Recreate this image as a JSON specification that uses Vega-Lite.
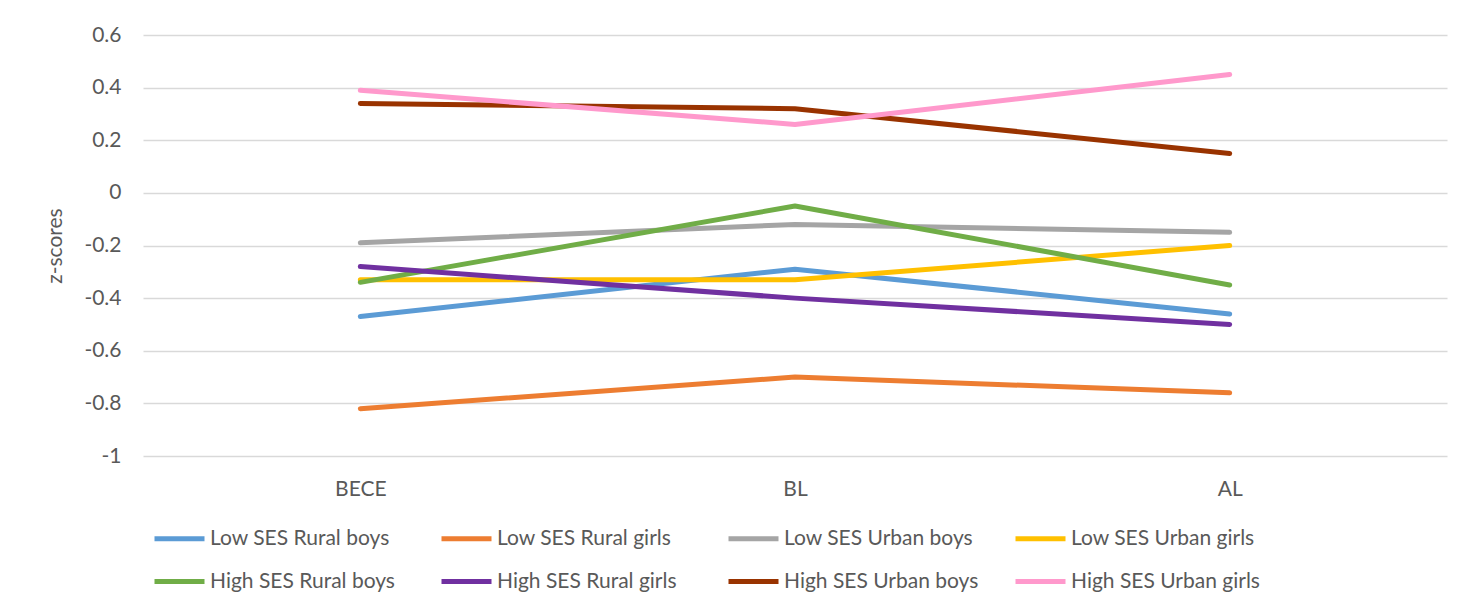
{
  "$schema": "https://vega.github.io/schema/vega-lite/v6.json",
  "width": 1304,
  "height": 421,
  "autosize": {"type": "none"},
  "padding": {"left": 143, "top": 35, "right": 31, "bottom": 160},
  "background": "white",
  "config": {
    "view": {"stroke": null},
    "font": "Lato",
    "axis": {"labelFont": "Lato", "titleFont": "Lato", "labelColor": "#595959", "titleColor": "#595959"},
    "legend": {"labelFont": "Lato", "labelColor": "#595959"}
  },
  "data": {
    "values": [
      {"group": "Low SES Rural boys", "exam": "BECE", "z": -0.47},
      {"group": "Low SES Rural boys", "exam": "BL", "z": -0.29},
      {"group": "Low SES Rural boys", "exam": "AL", "z": -0.46},
      {"group": "Low SES Rural girls", "exam": "BECE", "z": -0.82},
      {"group": "Low SES Rural girls", "exam": "BL", "z": -0.70},
      {"group": "Low SES Rural girls", "exam": "AL", "z": -0.76},
      {"group": "Low SES Urban boys", "exam": "BECE", "z": -0.19},
      {"group": "Low SES Urban boys", "exam": "BL", "z": -0.12},
      {"group": "Low SES Urban boys", "exam": "AL", "z": -0.15},
      {"group": "Low SES Urban girls", "exam": "BECE", "z": -0.33},
      {"group": "Low SES Urban girls", "exam": "BL", "z": -0.33},
      {"group": "Low SES Urban girls", "exam": "AL", "z": -0.20},
      {"group": "High SES Rural boys", "exam": "BECE", "z": -0.34},
      {"group": "High SES Rural boys", "exam": "BL", "z": -0.05},
      {"group": "High SES Rural boys", "exam": "AL", "z": -0.35},
      {"group": "High SES Rural girls", "exam": "BECE", "z": -0.28},
      {"group": "High SES Rural girls", "exam": "BL", "z": -0.40},
      {"group": "High SES Rural girls", "exam": "AL", "z": -0.50},
      {"group": "High SES Urban boys", "exam": "BECE", "z": 0.34},
      {"group": "High SES Urban boys", "exam": "BL", "z": 0.32},
      {"group": "High SES Urban boys", "exam": "AL", "z": 0.15},
      {"group": "High SES Urban girls", "exam": "BECE", "z": 0.39},
      {"group": "High SES Urban girls", "exam": "BL", "z": 0.26},
      {"group": "High SES Urban girls", "exam": "AL", "z": 0.45}
    ]
  },
  "mark": {"type": "line", "strokeWidth": 5, "strokeCap": "round", "strokeJoin": "round"},
  "encoding": {
    "x": {
      "field": "exam", "type": "nominal", "sort": ["BECE", "BL", "AL"],
      "scale": {"type": "point", "padding": 0.5},
      "axis": {"title": null, "labelAngle": 0, "labelFontSize": 21, "labelPadding": 22, "ticks": false, "domain": false, "grid": false}
    },
    "y": {
      "field": "z", "type": "quantitative",
      "scale": {"domain": [-1, 0.6], "nice": false, "zero": false},
      "axis": {
        "title": "z-scores", "titleFontSize": 21, "titleFontWeight": "normal", "titlePadding": 18,
        "values": [-1, -0.8, -0.6, -0.4, -0.2, 0, 0.2, 0.4, 0.6],
        "labelExpr": "datum.value == 0 ? '0' : (datum.value < 0 ? '-' : '') + format(abs(datum.value), '~g')",
        "labelFontSize": 21, "labelPadding": 22, "ticks": false, "domain": false,
        "grid": true, "gridColor": "#D9D9D9", "gridWidth": 1.5
      }
    },
    "color": {
      "field": "group", "type": "nominal",
      "scale": {
        "domain": ["Low SES Rural boys", "Low SES Rural girls", "Low SES Urban boys", "Low SES Urban girls", "High SES Rural boys", "High SES Rural girls", "High SES Urban boys", "High SES Urban girls"],
        "range": ["#5B9BD5", "#ED7D31", "#A5A5A5", "#FFC000", "#70AD47", "#7030A0", "#993300", "#FF99CC"]
      },
      "legend": {
        "title": null, "orient": "none", "legendX": 9, "legendY": 476,
        "direction": "horizontal", "columns": 4, "gridAlign": "all",
        "symbolType": "stroke", "symbolSize": 2500, "symbolStrokeWidth": 5,
        "labelFontSize": 21, "labelOffset": 3, "columnPadding": 26, "rowPadding": 5,
        "labelLimit": 400
      }
    }
  }
}
